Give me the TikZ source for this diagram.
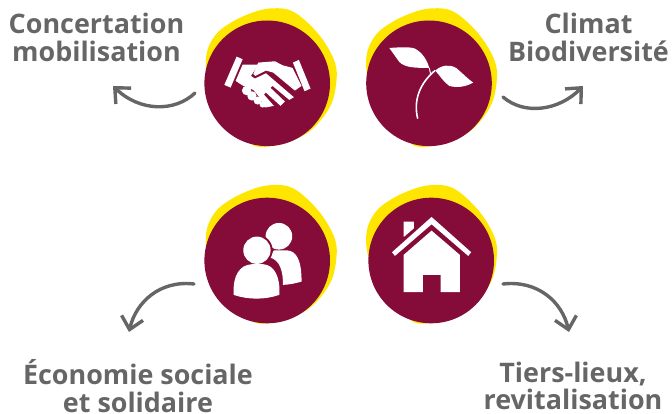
\documentclass[tikz,border=0pt]{standalone}
\usepackage{fontspec}
\setmainfont{Open Sans}
\usetikzlibrary{arrows.meta}
\definecolor{wine}{HTML}{850B38}
\definecolor{sun}{HTML}{FFE600}
\definecolor{inkgrey}{HTML}{666666}
\tikzset{
  x=1pt,y=-1pt,
  disc/.style={circle,fill=wine,draw=none,minimum size=125.6pt,inner sep=0pt},
  lab/.style={font=\bfseries\fontsize{26.9pt}{27.5pt}\selectfont,text=inkgrey,align=center,inner sep=0pt},
  curve/.style={draw=inkgrey,line width=3.4pt,line cap=round,line join=round,-{Straight Barb[length=12pt,width=22pt,line width=3.4pt]}},
  blob/.pic={\fill[sun] plot[smooth cycle,tension=0.6] coordinates {(-61,-27) (-52,-48) (-34,-62) (-11,-72) (6,-75) (23,-73) (39,-62) (56,-43) (68,-20) (69,0) (63,23) (46,45) (26,57) (3,63) (-17,60) (-40,30) (-58,0)};}
}
\begin{document}
\begin{tikzpicture}
\useasboundingbox (0,0) rectangle (672,414);
% blobs
\pic at (267.2,83.3) {blob};
\pic at (427.5,83.3) {blob};
\pic at (267.2,260) {blob};
\pic at (427.5,260) {blob};
% discs
\node[disc] (d1) at (267.2,83.3) {};
\node[disc] (d2) at (429,83.3) {};
\node[disc] (d3) at (267.2,260.5) {};
\node[disc] (d4) at (431.2,260.5) {};
% handshake
\begin{scope}[shift={(190,0)},x=0.333pt,y=-0.333pt]
\fill[white] (140,170)--(158,178)--(122,263)--(103,255)--cycle;
\fill[white] (327,180)--(309,188)--(344,274)--(362,266)--cycle;
\fill[white] (158,194)--(205,194)--(183,228)--(195,236)--(228,220)--(312,292)--(298,300)--(248,258)--(242,264)--(285,305)--(272,318)--(228,278)--(222,284)--(252,318)--(225,323)--(205,288)--(190,270)--(160,258)--(137,243)--cycle;
\fill[white] (205,188)--(255,184)--(278,196)--(308,204)--(335,258)--(315,272)--(250,218)--(228,212)--(196,228)--(190,222)--cycle;
\fill[white] (170,272) circle[radius=14];
\fill[white] (186,288) circle[radius=14];
\fill[white] (203,302) circle[radius=12];
\fill[white] (218,314) circle[radius=9];
\end{scope}
% sprout
\begin{scope}[shift={(350,0)},x=0.333pt,y=-0.333pt]
\fill[white] (118,144) .. controls (150,142) and (180,140) .. (195,146) .. controls (218,158) and (232,182) .. (238,204) .. controls (200,204) and (165,204) .. (148,186) -- cycle;
\fill[white] (256,212) .. controls (275,195) and (300,192) .. (320,205) .. controls (340,222) and (355,238) .. (370,248) .. controls (345,262) and (320,264) .. (298,258) .. controls (280,245) and (268,225) .. (256,212) -- cycle;
\draw[white,line width=1.6pt,line cap=round] (203,355) .. controls (190,300) and (210,250) .. (255,212);
\draw[white,line width=1pt] (238,204) -- (242,222);
\end{scope}
% people
\begin{scope}[shift={(190,175)},x=0.333pt,y=-0.333pt]
\fill[white] (267,184) circle[radius=40];
\fill[white] (252,226)--(290,226) .. controls (320,228) and (335,255) .. (335,320) .. controls (315,326) and (298,329) .. (279,330) .. controls (280,290) and (270,255) .. (240,248) -- cycle;
\fill[wine] (201,226) circle[radius=47];
\fill[white] (201,226) circle[radius=41];
\fill[white] (131,360) .. controls (128,300) and (150,270) .. (185,268) -- (220,268) .. controls (255,270) and (272,310) .. (268,360) .. controls (225,375) and (175,375) .. (131,360) -- cycle;
\end{scope}
% house
\begin{scope}[shift={(350,175)},x=0.333pt,y=-0.333pt]
\fill[white] (161,140)--(192,140)--(192,160)--(163,185)--(161,185)--cycle;
\fill[white] (126,232)--(245,126)--(364,232)--(355,243)--(245,148)--(135,243)--cycle;
\fill[white] (161,240)--(245,167)--(330,240)--(330,352)--(272,352)--(272,300)--(219,300)--(219,352)--(161,352)--cycle;
\end{scope}
% connectors
\coordinate (a1s) at (195,93);
\coordinate (a1e) at (113,86);
\coordinate (a2s) at (503,97);
\coordinate (a2e) at (583,86);
\coordinate (a3s) at (194,284);
\coordinate (a3e) at (129,332);
\coordinate (a4s) at (503,284);
\coordinate (a4e) at (569,332);
\draw[curve] (a1s) .. controls (175,112) and (140,112) .. (a1e);
\draw[curve] (a2s) .. controls (525,116) and (560,110) .. (a2e);
\draw[curve] (a3s) .. controls (160,280) and (136,302) .. (a3e);
\draw[curve] (a4s) .. controls (538,280) and (562,302) .. (a4e);
% labels
\node[lab] (t1) at (96.5,37.5) {Concertation\\mobilisation};
\node[lab] (t2) at (588.5,37.5) {Climat\\Biodiversité};
\node[lab] (t3) at (138,386) {Économie sociale\\et solidaire};
\node[lab] (t4) at (573,386) {Tiers-lieux,\\revitalisation};
\end{tikzpicture}
\end{document}
